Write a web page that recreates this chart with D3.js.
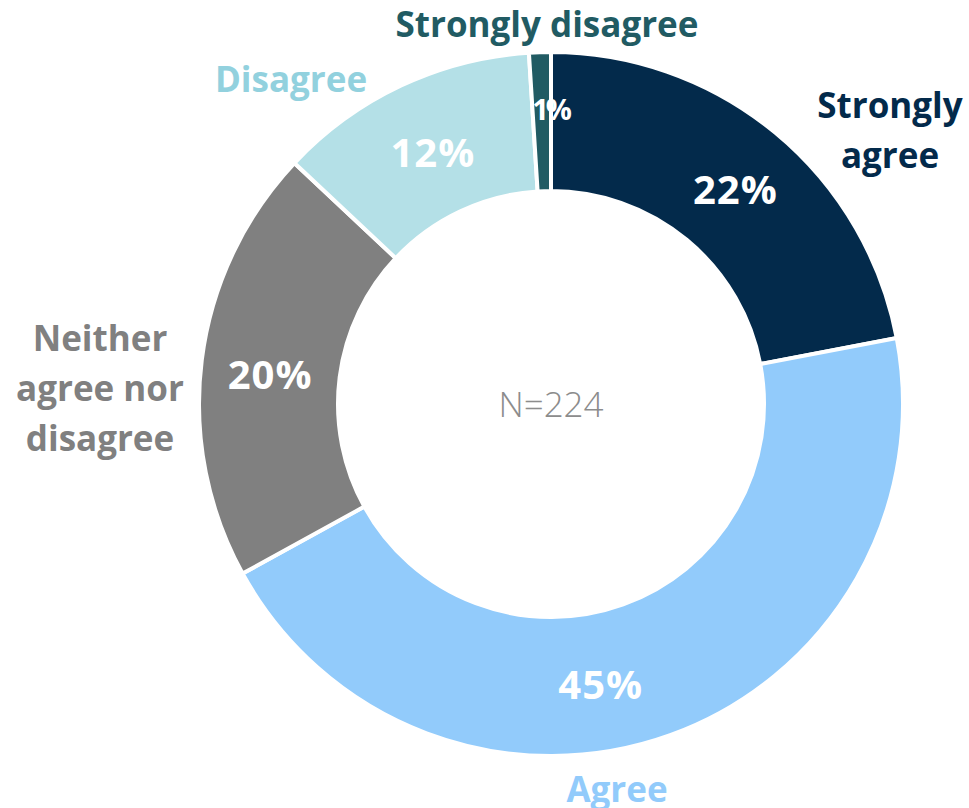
<!DOCTYPE html>
<html lang="en">
<head>
    <meta charset="UTF-8">
    <title>Agreement doughnut</title>
    <script src="https://cdnjs.cloudflare.com/ajax/libs/d3/7.8.5/d3.min.js"></script>
    <style>
        body {
            margin: 0;
            background: white;
            font-family: "Open Sans", "Noto Sans", sans-serif;
        }
        svg {
            display: block;
        }
    </style>
</head>
<body>
    <svg id="chart" width="969" height="808"></svg>

    <script>
        // data, clockwise from 12 o'clock
        const categories = ["Strongly agree", "Agree", "Neither agree nor disagree", "Disagree", "Strongly disagree"];
        const values = [22, 45, 20, 12, 1];
        const sampleSize = 224;

        const sliceColors = ["#032a4b", "#92cbfb", "#808080", "#b4e0e7", "#215b63"];
        const labelColors = ["#032a4b", "#92cbfb", "#808080", "#92d1de", "#215b63"];

        // outside label placement (lines, x, first baseline)
        const outerLabels = [
            { lines: ["Strongly", "agree"], x: 890, y: 118 },
            { lines: ["Agree"], x: 617, y: 802 },
            { lines: ["Neither", "agree nor", "disagree"], x: 100, y: 351 },
            { lines: ["Disagree"], x: 291, y: 92 },
            { lines: ["Strongly disagree"], x: 547, y: 37 }
        ];
        // Excel nudges some inner labels off the centroid
        const labelAngleShift = [0.02, 0.17, -0.02, 0, 0.03];
        const labelRadiusShift = [0, 2, 0, -5, 12];

        const width = 969, height = 808;
        const cx = 551, cy = 404;
        const outerR = 352, innerR = 213;

        const svg = d3.select("#chart");
        const g = svg.append("g").attr("transform", `translate(${cx},${cy})`);

        const pie = d3.pie().sort(null).value(d => d.value);
        const arcs = pie(values.map((v, i) => ({ name: categories[i], value: v, i: i })));

        const arc = d3.arc().innerRadius(innerR).outerRadius(outerR);

        g.selectAll("path.slice")
            .data(arcs)
            .enter()
            .append("path")
            .attr("class", "slice")
            .attr("d", arc)
            .attr("fill", d => sliceColors[d.data.i])
            .attr("stroke", "white")
            .attr("stroke-width", 4);

        // percentage labels inside the ring
        g.selectAll("text.pct")
            .data(arcs)
            .enter()
            .append("text")
            .attr("class", "pct")
            .attr("transform", d => {
                const i = d.data.i;
                const r = (innerR + outerR) / 2 + labelRadiusShift[i];
                const a = { startAngle: d.startAngle + labelAngleShift[i], endAngle: d.endAngle + labelAngleShift[i] };
                const [x, y] = d3.arc().innerRadius(r).outerRadius(r).centroid(a);
                return `translate(${x},${y})`;
            })
            .attr("text-anchor", "middle")
            .attr("dy", "0.36em")
            .attr("fill", "white")
            .attr("font-weight", "bold")
            .attr("font-size", d => d.data.value < 5 ? 29 : 40)
            .attr("letter-spacing", d => d.data.value < 5 ? -3 : 1)
            .text(d => d.data.value + "%");

        // category labels outside
        const cat = svg.selectAll("text.cat")
            .data(outerLabels)
            .enter()
            .append("text")
            .attr("class", "cat")
            .attr("text-anchor", "middle")
            .attr("font-weight", "bold")
            .attr("font-size", 35)
            .attr("fill", (d, i) => labelColors[i]);

        cat.selectAll("tspan")
            .data(d => d.lines.map((t, k) => ({ t, k, x: d.x, y: d.y })))
            .enter()
            .append("tspan")
            .attr("x", d => d.x)
            .attr("y", d => d.y + d.k * 50)
            .text(d => d.t);

        g.append("text")
            .attr("text-anchor", "middle")
            .attr("y", 13)
            .attr("font-size", 35)
            .attr("font-weight", 300)
            .attr("fill", "#8c8c8c")
            .text("N=" + sampleSize);
    </script>
</body>
</html>
